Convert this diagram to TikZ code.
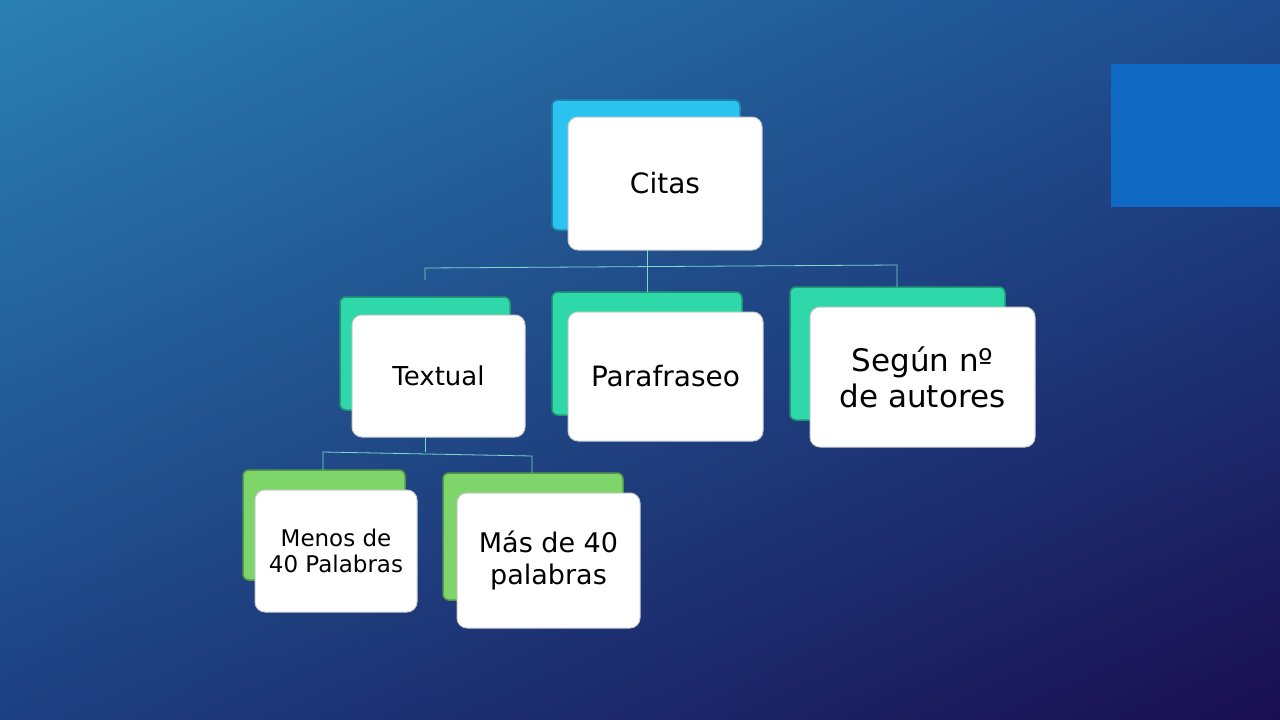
\documentclass[tikz,border=0pt]{standalone}
\usepackage{fontspec}
\setmainfont{DejaVu Sans}
\usetikzlibrary{shadings}
\definecolor{bgA}{HTML}{2A80B2}
\definecolor{bgB}{HTML}{1E4C8E}
\definecolor{bgC}{HTML}{1A0E50}
\definecolor{cyanb}{HTML}{2BC4F0}
\definecolor{tealb}{HTML}{2ED8A8}
\definecolor{greenb}{HTML}{7ED66A}
\definecolor{lin}{HTML}{7FD8D0}
\begin{document}
\begin{tikzpicture}[x=1pt,y=-1pt,
 backbox/.style={draw=#1!70!black,line width=1.5pt,fill=#1,rounded corners=6pt},
 frontbox/.style={draw=gray!40,line width=1pt,fill=white,rounded corners=10pt,inner sep=0pt,align=center,font=\fontsize{#1}{1.15\dimexpr#1pt}\selectfont},
 conn/.style={draw=lin,line width=0.8pt}]
\shade[upper left=bgA,lower right=bgC,lower left=bgB!80!bgC,upper right=bgB] (0,0) rectangle (1280,720);
\useasboundingbox (0,0) rectangle (1280,720);
\fill[fill={rgb,255:red,16;green,106;blue,196}] (1111,64) rectangle (1280,207);
% Citas
\draw[backbox=cyanb] (552,100) rectangle (740,230);
\node[frontbox=28,minimum width=194pt,minimum height=133pt] (citas) at (665,183.5) {Citas};
% Level 2
\draw[backbox=tealb] (340,297) rectangle (510,410);
\node[frontbox=26,minimum width=173pt,minimum height=122pt] (tex) at (438.5,376) {Textual};
\draw[backbox=tealb] (552,292) rectangle (742,415);
\node[frontbox=28,minimum width=195pt,minimum height=129pt] (par) at (665.5,376.5) {Parafraseo};
\draw[backbox=tealb] (790,287) rectangle (1005,420);
\node[frontbox=31,minimum width=225pt,minimum height=140pt] (seg) at (922.5,377) {Según nº\\de autores};
% Level 3
\draw[backbox=greenb] (243,470) rectangle (405,580);
\node[frontbox=23,minimum width=162pt,minimum height=122pt] (men) at (336,551) {Menos de\\40 Palabras};
\draw[backbox=greenb] (443,473) rectangle (623,600);
\node[frontbox=27,minimum width=183pt,minimum height=135pt] (mas) at (548.5,560.5) {Más de 40\\palabras};
% connectors
\coordinate (h1) at (647,265);
\draw[conn] (647,250) -- (h1);
\draw[conn] (425,280) -- (425,268) -- (897,265) -- (897,287);
\draw[conn] (647,265) -- (647,292);
\coordinate (h2) at (425,452);
\draw[conn] (425,437) -- (h2);
\draw[conn] (323,470) -- (323,452) -- (532,456) -- (532,473);
\end{tikzpicture}
\end{document}
